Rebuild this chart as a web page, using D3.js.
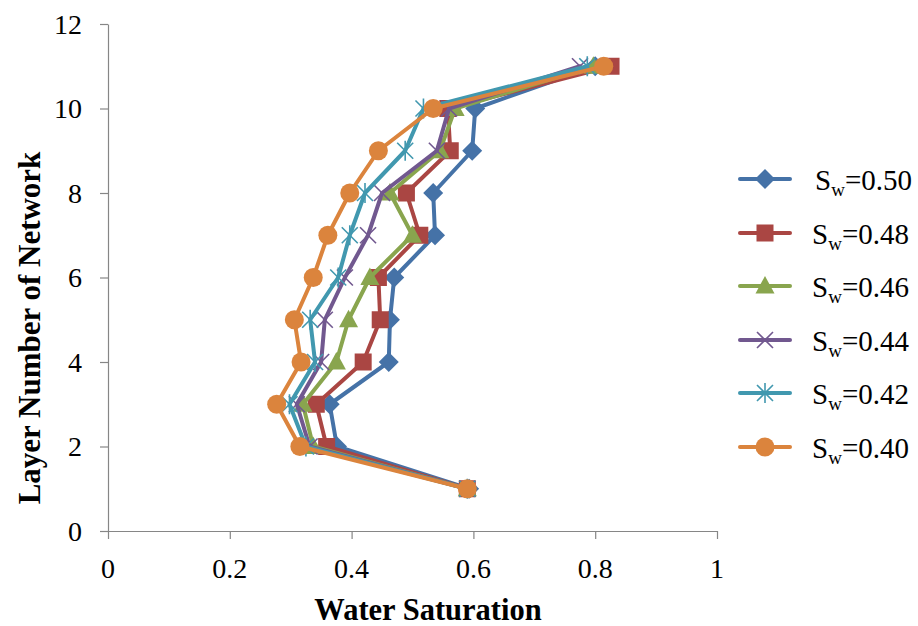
<!DOCTYPE html>
<html>
<head>
<meta charset="utf-8">
<script src="https://cdn.jsdelivr.net/npm/d3@7"></script>
<style>body{margin:0;background:#fff}</style>
</head>
<body>
<svg id="chart" width="918" height="626" style="font-family: Tinos, 'Liberation Serif', Times, serif;"></svg>
<script>
// Layer index (y) for every profile
const layers = [1, 2, 3, 4, 5, 6, 7, 8, 9, 10, 11];

// Water saturation per layer for each average saturation case
const sw050 = [0.593, 0.376, 0.364, 0.461, 0.463, 0.470, 0.537, 0.534, 0.598, 0.603, 0.800];
const sw048 = [0.590, 0.359, 0.342, 0.419, 0.447, 0.444, 0.512, 0.490, 0.562, 0.558, 0.826];
const sw046 = [0.590, 0.337, 0.320, 0.375, 0.395, 0.430, 0.500, 0.463, 0.545, 0.570, 0.797];
const sw044 = [0.590, 0.331, 0.310, 0.350, 0.356, 0.389, 0.427, 0.450, 0.540, 0.560, 0.775];
const sw042 = [0.590, 0.325, 0.298, 0.340, 0.332, 0.378, 0.397, 0.422, 0.488, 0.518, 0.787];
const sw040 = [0.590, 0.315, 0.277, 0.317, 0.306, 0.337, 0.361, 0.397, 0.444, 0.534, 0.814];

const seriesLabels = ["0.50", "0.48", "0.46", "0.44", "0.42", "0.40"];
const seriesValues = [sw050, sw048, sw046, sw044, sw042, sw040];
const seriesColors = ["#4572A7", "#AA4643", "#89A54E", "#71588F", "#4198AF", "#DB843D"];
const markerShapes = ["diamond", "square", "triangle", "cross", "asterisk", "circle"];

const xTicks = [0, 0.2, 0.4, 0.6, 0.8, 1];
const yTicks = [0, 2, 4, 6, 8, 10, 12];

const serifFont = "Tinos, 'Liberation Serif', Times, serif";

const svg = d3.select("#chart");
const x = d3.scaleLinear().domain([0, 1]).range([108, 717]);
const y = d3.scaleLinear().domain([0, 12]).range([531, 24]);
const axisColor = "#868686";

// Plain serif text helper
function label(parent, str, size, bold) {
  return parent.append("text")
    .attr("font-family", serifFont)
    .style("font-family", serifFont)
    .attr("font-size", size)
    .attr("font-weight", bold ? "bold" : "normal")
    .attr("fill", "#000")
    .text(str);
}

// Axis lines and ticks drawn by d3, labels added separately
const xAxis = svg.append("g")
  .attr("transform", `translate(0,${y(0)})`)
  .call(d3.axisBottom(x).tickValues(xTicks).tickSize(8).tickSizeOuter(0).tickFormat(""));
const yAxis = svg.append("g")
  .attr("transform", `translate(${x(0)},0)`)
  .call(d3.axisLeft(y).tickValues(yTicks).tickSize(8).tickSizeOuter(0).tickFormat(""));

[xAxis, yAxis].forEach(a => {
  a.select(".domain").attr("stroke", axisColor).attr("stroke-width", 1.2);
  a.selectAll(".tick line").attr("stroke", axisColor).attr("stroke-width", 1.2);
  a.selectAll(".tick text").remove();
});

xTicks.forEach(t => {
  label(svg, String(+t.toFixed(1)), 28, false)
    .attr("x", x(t)).attr("y", y(0) + 47).attr("text-anchor", "middle");
});
yTicks.forEach(t => {
  label(svg, String(t), 28, false)
    .attr("x", x(0) - 26).attr("y", y(t)).attr("dy", "0.34em").attr("text-anchor", "end");
});

// Axis titles
label(svg, "Water Saturation", 30.5, true)
  .attr("x", 428).attr("y", 620).attr("text-anchor", "middle");
label(svg, "Layer Number of Network", 31, true)
  .attr("transform", "translate(40,328) rotate(-90)").attr("text-anchor", "middle");

// Marker glyphs
function drawMarker(g, shape, color) {
  switch (shape) {
    case "diamond":
      g.append("path").attr("d", "M0,-10L10,0L0,10L-10,0Z").attr("fill", color);
      break;
    case "square":
      g.append("rect").attr("x", -8.5).attr("y", -8.5).attr("width", 17).attr("height", 17).attr("fill", color);
      break;
    case "triangle":
      g.append("path").attr("d", "M0,-10L9.5,7.5L-9.5,7.5Z").attr("fill", color);
      break;
    case "circle":
      g.append("circle").attr("r", 9.5).attr("fill", color);
      break;
    case "cross":
      g.append("path").attr("d", "M-8,-8L8,8M-8,8L8,-8")
        .attr("stroke", color).attr("stroke-width", 1.6).attr("fill", "none");
      break;
    case "asterisk":
      g.append("path").attr("d", "M-8,-8L8,8M-8,8L8,-8M0,-10L0,10")
        .attr("stroke", color).attr("stroke-width", 1.6).attr("fill", "none");
      break;
  }
}

const line = d3.line().x(d => x(d.v)).y(d => y(d.layer));

// Series: profile line plus markers
seriesValues.forEach((vals, i) => {
  const pts = vals.map((v, k) => ({ v, layer: layers[k] }));
  const g = svg.append("g");
  g.append("path").datum(pts)
    .attr("d", line)
    .attr("fill", "none")
    .attr("stroke", seriesColors[i])
    .attr("stroke-width", 4)
    .attr("stroke-linejoin", "round")
    .attr("stroke-linecap", "round");
  pts.forEach(p => {
    const m = g.append("g").attr("transform", `translate(${x(p.v)},${y(p.layer)})`);
    drawMarker(m, markerShapes[i], seriesColors[i]);
  });
});

// Legend
const legendY = [179, 233, 286, 340, 393, 447];
seriesLabels.forEach((lab, i) => {
  const g = svg.append("g").attr("transform", `translate(0,${legendY[i]})`);
  g.append("line").attr("x1", 740).attr("x2", 790).attr("y1", 0).attr("y2", 0)
    .attr("stroke", seriesColors[i]).attr("stroke-width", 4).attr("stroke-linecap", "round");
  drawMarker(g.append("g").attr("transform", "translate(765,0)"), markerShapes[i], seriesColors[i]);
  const t = label(g, null, 29, false).attr("x", i === 0 ? 815 : 812).attr("y", 11);
  t.append("tspan").text("S");
  t.append("tspan").attr("font-size", 19).attr("dy", 6).text("w");
  t.append("tspan").attr("dy", -6).text("=" + lab);
});
</script>
</body>
</html>
